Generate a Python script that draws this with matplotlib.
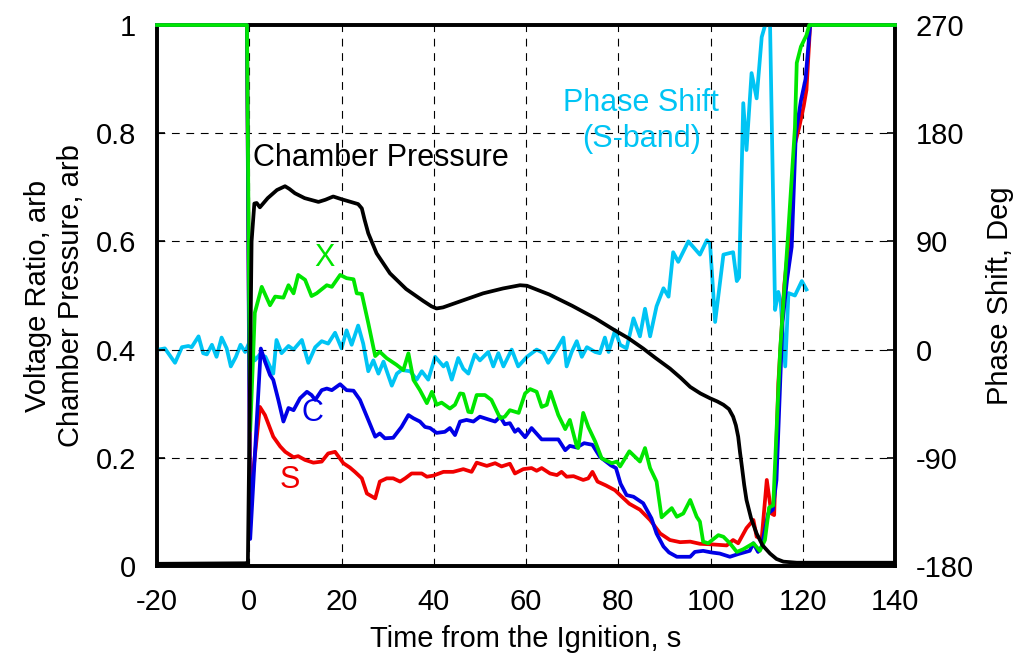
import matplotlib as mpl
mpl.use('Agg')
import matplotlib.pyplot as plt

FONTSIZE = 21
plt.rcParams['font.family'] = ['Liberation Sans', 'DejaVu Sans']
plt.rcParams['axes.unicode_minus'] = False

# Chamber pressure (arb)
t_cp = [-20, -0.9, -0.3, 0.1, 0.5, 1.1, 1.6, 2.3, 4.0, 6.0, 7.75, 8.7, 9.9, 12.0, 15.0, 16.5, 18.2,
        20.0, 22.0, 23.6, 24.4, 25.0, 25.8, 27.6, 30.5, 34.0, 37.7, 39.5, 40.6, 42.0, 45.0, 50.7,
        55.0, 58.7, 60.2, 65.0, 70.0, 75.0, 78.6, 82.2, 85.4, 88.0, 91.2, 93.5, 95.6, 97.8, 99.9,
        101.5, 102.8, 104.0, 104.9, 105.5, 106.0, 106.4, 106.8, 107.3, 107.8, 108.8, 110.0, 111.3,
        112.9, 114.3, 115.8, 118.7, 140]
cp = [0.004, 0.005, 0.006, 0.30, 0.60, 0.670, 0.671, 0.663, 0.680, 0.695, 0.702, 0.697, 0.689,
      0.680, 0.673, 0.677, 0.683, 0.678, 0.673, 0.669, 0.661, 0.640, 0.615, 0.578, 0.541, 0.512,
      0.490, 0.480, 0.476, 0.478, 0.487, 0.504, 0.513, 0.519, 0.518, 0.502, 0.481, 0.458, 0.439,
      0.421, 0.402, 0.385, 0.365, 0.348, 0.331, 0.319, 0.310, 0.304, 0.298, 0.290, 0.276, 0.260,
      0.239, 0.210, 0.184, 0.150, 0.122, 0.088, 0.060, 0.038, 0.023, 0.013, 0.008, 0.006, 0.006]

# X-band voltage ratio
t_x = [-20, -0.5, 0.2, 1.2, 2.7, 4.5, 5.6, 7.4, 8.5, 9.6, 10.6, 12.1, 13.5, 14.6, 16.8, 17.9, 19.7,
       21.1, 22.6, 23.3, 24.4, 25.8, 27.3, 28.3, 29.8, 31.9, 33.4, 34.5, 35.6, 37.0, 38.5, 39.6,
       40.6, 41.7, 43.5, 44.6, 45.7, 46.4, 47.5, 48.2, 49.3, 51.1, 52.5, 54.4, 55.4, 56.5, 58.4,
       59.8, 60.9, 62.3, 63.4, 64.5, 65.3, 67.0, 68.5, 69.5, 71.0, 71.3, 72.4, 73.5, 75.0, 76.4,
       78.6, 79.7, 80.4, 82.4, 84.7, 85.8, 86.9, 88.3, 89.4, 91.6, 92.7, 94.1, 95.6, 97.0, 97.7,
       98.4, 99.5, 101.7, 102.8, 104.2, 105.7, 107.1, 109.3, 110.7, 111.8, 112.7, 113.6, 114.0,
       115.1, 116.8, 118.3, 118.7, 119.6, 120.8, 121.4, 140]
v_x = [1.0, 1.0, 0.25, 0.468, 0.516, 0.482, 0.498, 0.496, 0.519, 0.504, 0.538, 0.529, 0.499, 0.504,
       0.519, 0.516, 0.538, 0.532, 0.530, 0.504, 0.503, 0.449, 0.388, 0.396, 0.384, 0.372, 0.362,
       0.393, 0.344, 0.325, 0.301, 0.322, 0.298, 0.302, 0.291, 0.298, 0.319, 0.318, 0.285, 0.284,
       0.316, 0.316, 0.307, 0.273, 0.276, 0.288, 0.283, 0.319, 0.327, 0.322, 0.294, 0.298, 0.322,
       0.279, 0.253, 0.270, 0.221, 0.218, 0.283, 0.257, 0.230, 0.199, 0.190, 0.193, 0.184, 0.212,
       0.193, 0.218, 0.181, 0.156, 0.090, 0.107, 0.091, 0.097, 0.122, 0.091, 0.082, 0.045, 0.042,
       0.057, 0.054, 0.042, 0.026, 0.031, 0.042, 0.028, 0.048, 0.108, 0.112, 0.19, 0.40, 0.61,
       0.81, 0.93, 0.96, 0.981, 1.0, 1.0]

# C-band voltage ratio
t_c = [-20, -0.5, 0.2, 2.5, 3.4, 4.5, 5.2, 6.3, 7.4, 8.5, 9.6, 11.0, 12.5, 13.5, 14.3, 15.7, 16.8,
       17.9, 19.7, 21.1, 22.6, 24.0, 25.8, 27.3, 28.3, 29.4, 31.2, 33.0, 34.5, 35.6, 37.0, 38.1,
       39.2, 40.6, 42.4, 43.5, 44.6, 45.7, 47.1, 48.6, 50.0, 51.8, 53.3, 54.4, 55.4, 56.5, 57.6,
       58.3, 59.8, 61.2, 63.4, 67.0, 68.5, 69.5, 71.0, 72.6, 74.4, 76.0, 78.4, 79.5, 80.5, 81.8,
       83.3, 85.4, 87.2, 88.3, 89.8, 91.0, 92.7, 95.6, 96.6, 98.4, 100.2, 102.0, 104.2, 106.0,
       108.5, 109.3, 110.3, 111.1, 112.5, 113.5, 114.3, 115.6, 116.6, 117.6, 118.5, 119.6, 120.6,
       121.6, 140]
v_c = [1.0, 1.0, 0.05, 0.402, 0.378, 0.353, 0.344, 0.307, 0.267, 0.292, 0.288, 0.310, 0.322, 0.316,
       0.307, 0.325, 0.328, 0.325, 0.336, 0.325, 0.324, 0.307, 0.270, 0.239, 0.245, 0.236, 0.237,
       0.257, 0.279, 0.273, 0.267, 0.257, 0.255, 0.246, 0.248, 0.255, 0.242, 0.267, 0.270, 0.267,
       0.276, 0.271, 0.267, 0.276, 0.262, 0.264, 0.248, 0.253, 0.238, 0.255, 0.234, 0.234, 0.214,
       0.222, 0.219, 0.227, 0.224, 0.202, 0.186, 0.181, 0.152, 0.131, 0.128, 0.116, 0.088, 0.060,
       0.036, 0.025, 0.017, 0.017, 0.026, 0.028, 0.025, 0.023, 0.017, 0.022, 0.028, 0.042, 0.026,
       0.036, 0.097, 0.104, 0.159, 0.45, 0.53, 0.59, 0.80, 0.86, 0.90, 1.0, 1.0]

# S-band voltage ratio
t_s = [-20, -0.5, 0.2, 2.3, 3.4, 5.2, 6.7, 7.8, 9.6, 10.6, 12.1, 13.9, 15.7, 17.1, 18.6, 20.4, 21.8,
       22.9, 24.4, 25.5, 27.3, 28.3, 29.8, 31.2, 32.7, 33.8, 35.2, 37.4, 38.5, 39.9, 42.1, 44.2,
       46.4, 48.2, 49.3, 51.5, 53.3, 54.7, 56.5, 57.6, 59.4, 61.2, 62.3, 63.4, 65.2, 66.7, 67.7,
       68.8, 70.3, 72.4, 73.5, 74.4, 75.5, 77.3, 79.3, 80.4, 82.4, 84.7, 86.9, 89.1, 91.2, 93.4,
       95.6, 97.7, 100.2, 103.5, 104.9, 106.0, 107.8, 109.3, 110.0, 111.1, 112.2, 113.2, 113.8,
       114.7, 116.0, 117.0, 118.3, 119.2, 120.2, 120.8, 121.6, 140]
v_s = [1.0, 1.0, 0.12, 0.294, 0.279, 0.239, 0.221, 0.211, 0.201, 0.203, 0.196, 0.191, 0.193, 0.208,
       0.211, 0.190, 0.182, 0.174, 0.162, 0.134, 0.125, 0.156, 0.162, 0.162, 0.156, 0.162, 0.171,
       0.171, 0.165, 0.167, 0.174, 0.174, 0.179, 0.174, 0.191, 0.185, 0.190, 0.184, 0.189, 0.171,
       0.179, 0.181, 0.176, 0.181, 0.171, 0.168, 0.174, 0.165, 0.166, 0.159, 0.162, 0.174, 0.156,
       0.149, 0.140, 0.131, 0.115, 0.104, 0.085, 0.060, 0.048, 0.044, 0.045, 0.041, 0.040, 0.038,
       0.048, 0.042, 0.070, 0.085, 0.054, 0.051, 0.159, 0.097, 0.094, 0.338, 0.52, 0.60, 0.78,
       0.81, 0.85, 0.88, 1.0, 1.0]

# Phase shift, S-band (deg)
t_ph = [-20, -19.7, -18.3, -16.1, -14.6, -13.2, -12.5, -11.0, -10.0, -9.2, -8.1, -7.1, -6.0, -4.9,
        -4.0, -2.9, -1.9, -0.9, 0.0, 1.2, 2.3, 3.5, 5.2, 5.9, 7.0, 8.5, 9.6, 11.4, 12.8, 14.3, 15.7,
        17.1, 18.6, 20.0, 21.1, 22.2, 23.6, 24.7, 25.8, 26.9, 28.0, 29.1, 30.9, 32.0, 33.0, 34.9,
        36.3, 37.4, 38.8, 40.3, 42.1, 42.8, 43.9, 45.3, 46.4, 47.5, 48.9, 50.0, 51.8, 52.9, 54.0,
        55.1, 56.9, 58.3, 60.2, 62.3, 63.8, 64.8, 66.3, 68.1, 68.8, 69.9, 71.0, 72.1, 73.2, 75.0,
        76.0, 77.1, 77.9, 79.3, 80.4, 81.8, 83.3, 84.7, 85.8, 86.9, 88.3, 89.8, 90.9, 91.9, 93.0,
        95.2, 97.7, 99.2, 99.9, 101.0, 102.8, 104.9, 105.7, 106.2, 107.1, 107.8, 108.9, 110.0,
        111.1, 112.0, 112.9, 114.0, 114.7, 115.2, 116.2, 116.9, 118.3, 119.8, 120.8]
ph = [0, 0, 1, -11, 2, 3, 2, 11, -3, -4, 4, -6, 10, 1, -14, -6, 4, -2, 6, -9, -4, -6, -20, 8, -3,
      3, 0, 8, -11, 2, 7, 5, 14, 1, 16, 4, 20, 5, -18, -9, -20, -10, -30, -20, -17, -18, -25, -18,
      -25, -6, -14, -11, -25, -7, -16, -20, -4, -9, -2, -14, -3, -14, 0, -14, -6, 0, -3, -11, -2,
      10, -14, -2, 7, -6, 2, -2, -3, 10, -2, 16, 4, 1, 26, 11, 34, 11, 36, 51, 44, 81, 73, 90, 79,
      91, 88, 23, 79, 81, 57, 60, 205, 166, 230, 209, 260, 272, 272, 33, 48, 40, -14, 47, 45, 57, 50]

fig = plt.figure(figsize=(10.21, 6.69), dpi=100)
ax = fig.add_axes([0.1538, 0.154, 0.7228, 0.8086])
ax2 = ax.twinx()
ax.set_zorder(ax2.get_zorder() + 1)
ax.patch.set_visible(False)

LW = 2.7
ax2.plot(t_ph, ph, color="#00c4f4", linewidth=LW, zorder=3)
ax.plot(t_s, v_s, color="#f00000", linewidth=LW, zorder=3, clip_on=False)
ax.plot(t_c, v_c, color="#0000e6", linewidth=LW, zorder=3, clip_on=False)
ax.plot(t_x, v_x, color="#00e600", linewidth=LW, zorder=3, clip_on=False)
ax.plot(t_cp, cp, color="black", linewidth=LW, zorder=3)

# Axes
ax.set_xlim(-20, 140)
ax.set_ylim(0, 1)
ax2.set_ylim(-180, 270)
ax.set_xticks(range(-20, 141, 20))
ax.set_yticks([0, 0.2, 0.4, 0.6, 0.8, 1])
ax.set_yticklabels(["0", "0.2", "0.4", "0.6", "0.8", "1"])
ax2.set_yticks(range(-180, 271, 90))
ax.grid(True, color="black", linestyle=(0, (7, 6)), linewidth=0.8)
ax.tick_params(direction="in", labelsize=FONTSIZE, length=6, width=1.2)
ax.tick_params(axis="x", pad=16, length=0)
ax.tick_params(axis="y", pad=15, right=False)
ax2.tick_params(direction="in", labelsize=FONTSIZE, length=6, width=1.2, pad=15)
for a in (ax, ax2):
    for s in a.spines.values():
        s.set_linewidth(2.6)

ax.set_xlabel("Time from the Ignition, s", fontsize=FONTSIZE, labelpad=6)
ax.set_ylabel("Voltage Ratio, arb\nChamber Pressure, arb", fontsize=FONTSIZE, labelpad=8)
ax2.set_ylabel("Phase Shift, Deg", fontsize=FONTSIZE, labelpad=9)

# Curve labels
ax.text(0.8, 0.754, "Chamber Pressure", fontsize=22, color="black", va="center")
ax.text(16.4, 0.569, "X", fontsize=22, color="#00e600", ha="center", va="center")
ax.text(13.8, 0.283, "C", fontsize=22, color="#0000e6", ha="center", va="center")
ax.text(8.8, 0.159, "S", fontsize=22, color="#f00000", ha="center", va="center")
ax.text(85.0, 0.822, "Phase Shift\n(S-band)", fontsize=22, color="#00c4f4",
        ha="center", va="center", linespacing=1.25)

fig.savefig("out.png", dpi=100)
